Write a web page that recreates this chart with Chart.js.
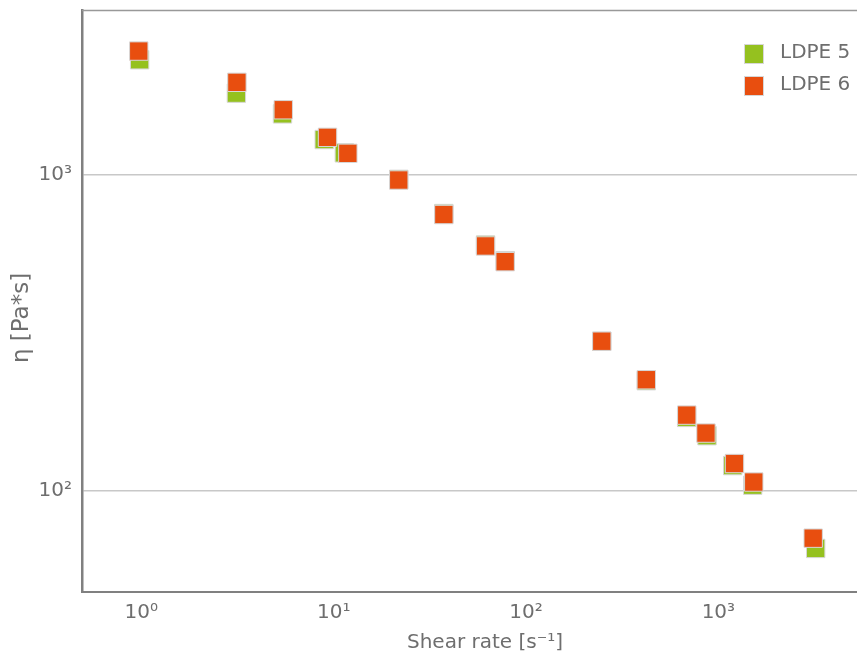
<!DOCTYPE html>
<html><head><meta charset="utf-8">
<script src="https://cdn.jsdelivr.net/npm/chart.js@4/dist/chart.umd.min.js"></script>
<style>html,body{margin:0;padding:0;background:#fff}#wrap{width:857px;height:659px;position:relative}</style>
</head><body><div id="wrap"><canvas id="c"></canvas></div>
<script>
const seriesNames = ['LDPE 5', 'LDPE 6'];
const ldpe5Shear = [0.98, 3.12, 5.42, 8.93, 11.36, 21.8, 37.4, 61.6, 77.9, 247.7, 422, 684, 873, 1187, 1508, 3206];
const ldpe5Eta   = [2305, 1808, 1555, 1290, 1171, 965.6, 753, 599, 534.5, 297.5, 223.2, 170.9, 149.6, 120.4, 104.4, 65.9];
const ldpe6Shear = [0.97, 3.14, 5.47, 9.29, 11.85, 21.8, 37.4, 61.6, 77.9, 247.7, 422, 685, 862, 1213, 1528, 3111];
const ldpe6Eta   = [2455, 1956, 1602, 1311, 1167, 961, 747.6, 594.8, 530.6, 297.5, 224.8, 173.8, 152.5, 122.2, 106.8, 71.0];
const xTickValues = [1, 10, 100, 1000];
const xTickLabels = ['10⁰', '10¹', '10²', '10³'];
const yTickValues = [100, 1000];
const yTickLabels = ['10²', '10³'];
const xTitle = 'Shear rate [s⁻¹]';
const yTitle = 'η [Pa*s]';

const GREEN = '#95c11f';
const ORANGE = '#e84e0f';
const TXT = '#6e6e6e';
const FONT = 'DejaVu Sans';

const toPts = (xs, ys) => xs.map((x, i) => ({x: x, y: ys[i]}));

const frameAndLegend = {
  id: 'frameAndLegend',
  beforeDatasetsDraw(chart) {
    const {ctx, chartArea} = chart;
    ctx.save();
    ctx.strokeStyle = '#999999';
    ctx.lineWidth = 1.5;
    ctx.beginPath();
    ctx.moveTo(chartArea.left, chartArea.top + 0.5);
    ctx.lineTo(chartArea.right, chartArea.top + 0.5);
    ctx.stroke();
    ctx.restore();
  },
  afterDraw(chart) {
    const {ctx, chartArea} = chart;
    ctx.save();
    // x axis title
    ctx.font = '20px "' + FONT + '"';
    ctx.fillStyle = TXT;
    ctx.textAlign = 'center';
    ctx.textBaseline = 'middle';
    ctx.fillText(xTitle, chartArea.left + 403, chartArea.bottom + 51);
    // y axis title
    ctx.save();
    ctx.translate(22, 318);
    ctx.rotate(-Math.PI / 2);
    ctx.font = '23px "' + FONT + '"';
    ctx.fillText(yTitle, 0, 0);
    ctx.restore();
    // legend
    ctx.textAlign = 'left';
    const ds = chart.data.datasets;
    const boxX = chartArea.right - 112;
    const startY = 45;
    const step = 32;
    ds.forEach((d, i) => {
      const y = startY + i * step;
      ctx.fillStyle = d.backgroundColor;
      ctx.fillRect(boxX, y, 18, 18);
      ctx.strokeStyle = 'rgba(215,215,215,1)';
      ctx.lineWidth = 1;
      ctx.strokeRect(boxX - 0.5, y - 0.5, 19, 19);
      ctx.fillStyle = TXT;
      ctx.fillText(d.label, boxX + 35, y + 8);
    });
    ctx.restore();
  }
};

new Chart(document.getElementById('c'), {
  type: 'scatter',
  data: {
    datasets: [
      {label: seriesNames[0], data: toPts(ldpe5Shear, ldpe5Eta), backgroundColor: GREEN, borderColor: 'rgba(215,215,215,1)', borderWidth: 1, pointStyle: 'rect', pointRadius: 13, order: 1},
      {label: seriesNames[1], data: toPts(ldpe6Shear, ldpe6Eta), backgroundColor: ORANGE, borderColor: 'rgba(215,215,215,1)', borderWidth: 1, pointStyle: 'rect', pointRadius: 13, order: 0}
    ]
  },
  options: {
    responsive: true,
    maintainAspectRatio: false,
    animation: false,
    devicePixelRatio: 1,
    layout: {autoPadding: false, padding: {top: 10, right: 0, left: 0, bottom: 0}},
    plugins: {legend: {display: false}, tooltip: {enabled: false}},
    scales: {
      x: {
        type: 'logarithmic',
        position: 'bottom',
        min: 0.4916,
        max: 5257,
        grid: {display: false, drawTicks: false},
        border: {display: true, color: '#808080', width: 2},
        afterBuildTicks: (s) => { s.ticks = xTickValues.map(v => ({value: v})); },
        afterFit: (s) => { s.height = 67; s.paddingLeft = 0; s.paddingRight = 0; },
        ticks: {
          autoSkip: false, maxRotation: 0, padding: 9, color: TXT,
          font: {family: FONT, size: 20},
          callback: (v, i) => xTickLabels[i]
        },
        title: {display: false, text: xTitle}
      },
      y: {
        type: 'logarithmic',
        position: 'left',
        min: 48,
        max: 3310,
        grid: {display: true, drawTicks: false, color: '#c8c8c8', lineWidth: 1.5},
        border: {display: true, color: '#808080', width: 2.5},
        afterBuildTicks: (s) => { s.ticks = yTickValues.map(v => ({value: v})); },
        afterFit: (s) => { s.width = 82; s.paddingTop = 0; s.paddingBottom = 0; },
        ticks: {
          autoSkip: false, padding: 10, color: TXT,
          font: {family: FONT, size: 20},
          callback: (v, i) => yTickLabels[i]
        },
        title: {display: false, text: yTitle}
      }
    }
  },
  plugins: [frameAndLegend]
});
</script>
</body></html>
